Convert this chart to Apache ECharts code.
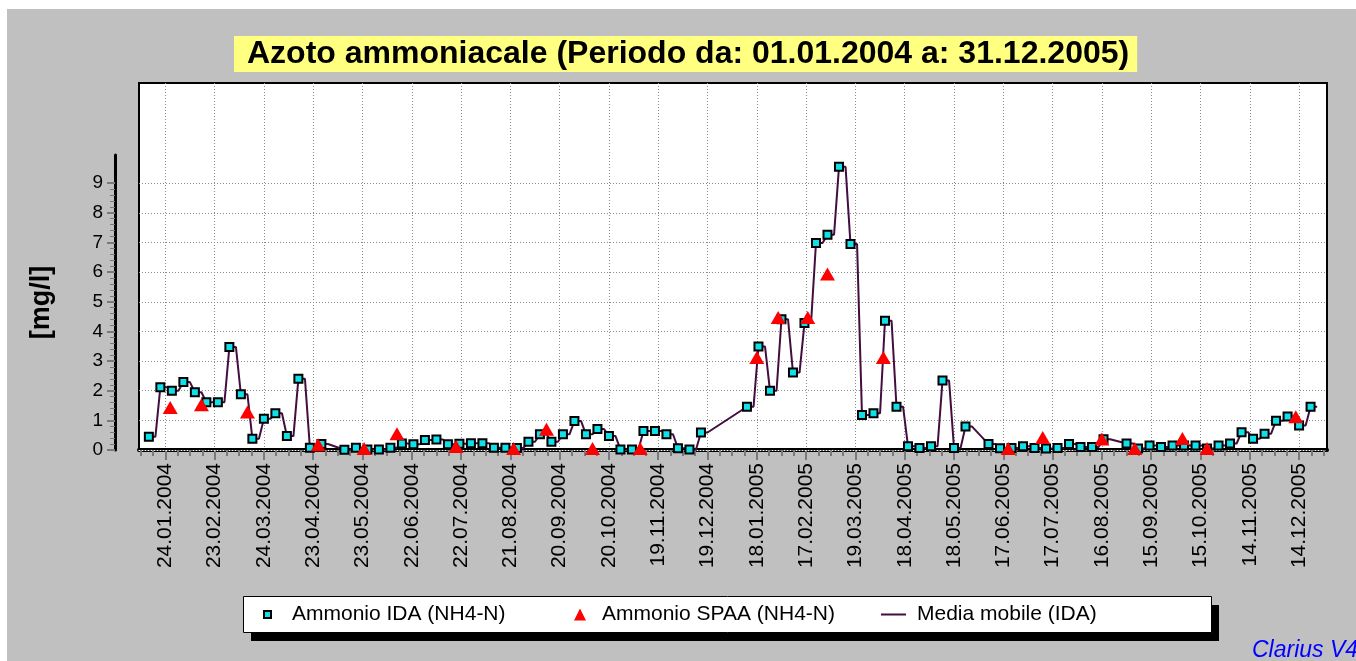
<!DOCTYPE html>
<html>
<head>
<meta charset="utf-8">
<title>Azoto ammoniacale</title>
<script src="https://cdn.jsdelivr.net/npm/echarts@6.0.0/dist/echarts.min.js"></script>
<style>
html, body { margin: 0; padding: 0; background: #fff; }
#chart { width: 1356px; height: 661px; }
</style>
</head>
<body>
<div id="chart"></div>
<script>
// Ammonio IDA (NH4-N), misure settimanali
const idaDates = [
	'14.01.2004', '21.01.2004', '28.01.2004', '04.02.2004', '11.02.2004', '18.02.2004', '25.02.2004',
	'03.03.2004', '10.03.2004', '17.03.2004', '24.03.2004', '31.03.2004', '07.04.2004', '14.04.2004',
	'21.04.2004', '28.04.2004', '12.05.2004', '19.05.2004', '26.05.2004', '02.06.2004', '09.06.2004',
	'16.06.2004', '23.06.2004', '30.06.2004', '07.07.2004', '14.07.2004', '21.07.2004', '28.07.2004',
	'04.08.2004', '11.08.2004', '18.08.2004', '25.08.2004', '01.09.2004', '08.09.2004', '15.09.2004',
	'22.09.2004', '29.09.2004', '06.10.2004', '13.10.2004', '20.10.2004', '27.10.2004', '03.11.2004',
	'10.11.2004', '17.11.2004', '24.11.2004', '01.12.2004', '08.12.2004', '15.12.2004',
	'12.01.2005', '19.01.2005', '26.01.2005', '02.02.2005', '09.02.2005', '16.02.2005', '23.02.2005',
	'02.03.2005', '09.03.2005', '16.03.2005', '23.03.2005', '30.03.2005', '06.04.2005', '13.04.2005',
	'20.04.2005', '27.04.2005', '04.05.2005', '11.05.2005', '18.05.2005', '25.05.2005', '08.06.2005',
	'15.06.2005', '22.06.2005', '29.06.2005', '06.07.2005', '13.07.2005', '20.07.2005', '27.07.2005',
	'03.08.2005', '10.08.2005', '17.08.2005', '31.08.2005', '07.09.2005', '14.09.2005', '21.09.2005',
	'28.09.2005', '05.10.2005', '12.10.2005', '19.10.2005', '26.10.2005', '02.11.2005', '09.11.2005',
	'16.11.2005', '23.11.2005', '30.11.2005', '07.12.2005', '14.12.2005', '21.12.2005'
];
const idaValues = [
	0.45, 2.12, 2.0, 2.29, 1.95, 1.61, 1.61,
	3.47, 1.88, 0.38, 1.05, 1.24, 0.47, 2.4,
	0.08, 0.2, 0.01, 0.08, 0.02, 0.02, 0.08,
	0.22, 0.19, 0.34, 0.35, 0.19, 0.21, 0.23,
	0.23, 0.08, 0.08, 0.07, 0.28, 0.53, 0.28,
	0.53, 0.98, 0.53, 0.71, 0.47, 0.02, 0.02,
	0.64, 0.64, 0.53, 0.06, 0.02, 0.59,
	1.46, 3.49, 2.0, 4.41, 2.61, 4.28, 6.98,
	7.26, 9.55, 6.95, 1.18, 1.24, 4.36, 1.46,
	0.13, 0.07, 0.13, 2.34, 0.07, 0.79, 0.2,
	0.06, 0.07, 0.13, 0.07, 0.05, 0.07, 0.2,
	0.1, 0.1, 0.36, 0.22, 0.05, 0.15, 0.1,
	0.15, 0.15, 0.15, 0.05, 0.15, 0.22, 0.6,
	0.38, 0.55, 0.99, 1.13, 0.83, 1.46
];

// Ammonio SPAA (NH4-N)
const spaaDates = [
	'27.01.2004', '15.02.2004', '14.03.2004', '26.04.2004', '24.05.2004', '13.06.2004', '19.07.2004',
	'23.08.2004', '12.09.2004', '10.10.2004', '08.11.2004', '18.01.2005', '31.01.2005', '18.02.2005',
	'02.03.2005', '05.04.2005', '20.06.2005', '11.07.2005', '16.08.2005', '05.09.2005', '04.10.2005',
	'19.10.2005', '12.12.2005'
];
const spaaValues = [
	1.43, 1.53, 1.28, 0.18, 0.05, 0.55, 0.12,
	0.05, 0.7, 0.05, 0.05, 3.12, 4.47, 4.47,
	5.94, 3.12, 0.05, 0.42, 0.37, 0.05, 0.39,
	0.05, 1.12
];

// Media mobile (IDA): vertici della linea
const mediaMobile = [
	['14.01.2004', 0.45], ['18.01.2004', 0.45], ['21.01.2004', 2.12], ['25.01.2004', 2.12],
	['28.01.2004', 2.0], ['01.02.2004', 2.0], ['04.02.2004', 2.29], ['08.02.2004', 2.29],
	['11.02.2004', 1.95], ['15.02.2004', 1.95], ['18.02.2004', 1.61], ['22.02.2004', 1.61],
	['25.02.2004', 1.61], ['29.02.2004', 1.61], ['03.03.2004', 3.47], ['07.03.2004', 3.47],
	['10.03.2004', 1.88], ['14.03.2004', 1.88], ['17.03.2004', 0.38], ['21.03.2004', 0.38],
	['24.03.2004', 1.05], ['28.03.2004', 1.05], ['31.03.2004', 1.24], ['04.04.2004', 1.24],
	['07.04.2004', 0.47], ['11.04.2004', 0.47], ['14.04.2004', 2.4], ['18.04.2004', 2.4],
	['21.04.2004', 0.08], ['25.04.2004', 0.08], ['28.04.2004', 0.2], ['02.05.2004', 0.2],
	['12.05.2004', 0.01], ['16.05.2004', 0.01], ['19.05.2004', 0.08], ['23.05.2004', 0.08],
	['26.05.2004', 0.02], ['30.05.2004', 0.02], ['02.06.2004', 0.02], ['06.06.2004', 0.02],
	['09.06.2004', 0.08], ['13.06.2004', 0.08], ['16.06.2004', 0.22], ['20.06.2004', 0.22],
	['23.06.2004', 0.19], ['27.06.2004', 0.19], ['30.06.2004', 0.34], ['04.07.2004', 0.34],
	['07.07.2004', 0.35], ['11.07.2004', 0.35], ['14.07.2004', 0.19], ['18.07.2004', 0.19],
	['21.07.2004', 0.21], ['25.07.2004', 0.21], ['28.07.2004', 0.23], ['01.08.2004', 0.23],
	['04.08.2004', 0.23], ['08.08.2004', 0.23], ['11.08.2004', 0.08], ['15.08.2004', 0.08],
	['18.08.2004', 0.08], ['22.08.2004', 0.08], ['25.08.2004', 0.07], ['29.08.2004', 0.07],
	['01.09.2004', 0.28], ['05.09.2004', 0.28], ['08.09.2004', 0.53], ['12.09.2004', 0.53],
	['15.09.2004', 0.28], ['19.09.2004', 0.28], ['22.09.2004', 0.53], ['26.09.2004', 0.53],
	['29.09.2004', 0.98], ['03.10.2004', 0.98], ['06.10.2004', 0.53], ['10.10.2004', 0.53],
	['13.10.2004', 0.71], ['17.10.2004', 0.71], ['20.10.2004', 0.47], ['24.10.2004', 0.47],
	['27.10.2004', 0.02], ['31.10.2004', 0.02], ['03.11.2004', 0.02], ['07.11.2004', 0.02],
	['10.11.2004', 0.64], ['14.11.2004', 0.64], ['17.11.2004', 0.64], ['21.11.2004', 0.64],
	['24.11.2004', 0.53], ['28.11.2004', 0.53], ['01.12.2004', 0.06], ['05.12.2004', 0.06],
	['08.12.2004', 0.02], ['12.12.2004', 0.02], ['15.12.2004', 0.59], ['19.12.2004', 0.59],
	['12.01.2005', 1.46], ['16.01.2005', 1.46], ['19.01.2005', 3.49], ['23.01.2005', 3.49],
	['26.01.2005', 2.0], ['30.01.2005', 2.0], ['02.02.2005', 4.41], ['06.02.2005', 4.41],
	['09.02.2005', 2.61], ['13.02.2005', 2.61], ['16.02.2005', 4.28], ['20.02.2005', 4.28],
	['23.02.2005', 6.98], ['27.02.2005', 6.98], ['02.03.2005', 7.26], ['06.03.2005', 7.26],
	['09.03.2005', 9.55], ['13.03.2005', 9.55], ['16.03.2005', 6.95], ['20.03.2005', 6.95],
	['23.03.2005', 1.18], ['27.03.2005', 1.18], ['30.03.2005', 1.24], ['03.04.2005', 1.24],
	['06.04.2005', 4.36], ['10.04.2005', 4.36], ['13.04.2005', 1.46], ['17.04.2005', 1.46],
	['20.04.2005', 0.13], ['24.04.2005', 0.13], ['27.04.2005', 0.07], ['01.05.2005', 0.07],
	['04.05.2005', 0.13], ['08.05.2005', 0.13], ['11.05.2005', 2.34], ['15.05.2005', 2.34],
	['18.05.2005', 0.07], ['22.05.2005', 0.07], ['25.05.2005', 0.79], ['29.05.2005', 0.79],
	['08.06.2005', 0.2], ['12.06.2005', 0.2], ['15.06.2005', 0.06], ['19.06.2005', 0.06],
	['22.06.2005', 0.07], ['26.06.2005', 0.07], ['29.06.2005', 0.13], ['03.07.2005', 0.13],
	['06.07.2005', 0.07], ['10.07.2005', 0.07], ['13.07.2005', 0.05], ['17.07.2005', 0.05],
	['20.07.2005', 0.07], ['24.07.2005', 0.07], ['27.07.2005', 0.2], ['31.07.2005', 0.2],
	['03.08.2005', 0.1], ['07.08.2005', 0.1], ['10.08.2005', 0.1], ['14.08.2005', 0.1],
	['17.08.2005', 0.36], ['21.08.2005', 0.36], ['31.08.2005', 0.22], ['04.09.2005', 0.22],
	['07.09.2005', 0.05], ['11.09.2005', 0.05], ['14.09.2005', 0.15], ['18.09.2005', 0.15],
	['21.09.2005', 0.1], ['25.09.2005', 0.1], ['28.09.2005', 0.15], ['02.10.2005', 0.15],
	['05.10.2005', 0.15], ['09.10.2005', 0.15], ['12.10.2005', 0.15], ['16.10.2005', 0.15],
	['19.10.2005', 0.05], ['23.10.2005', 0.05], ['26.10.2005', 0.15], ['30.10.2005', 0.15],
	['02.11.2005', 0.22], ['06.11.2005', 0.22], ['09.11.2005', 0.6], ['13.11.2005', 0.6],
	['16.11.2005', 0.38], ['20.11.2005', 0.38], ['23.11.2005', 0.55], ['27.11.2005', 0.55],
	['30.11.2005', 0.99], ['04.12.2005', 0.99], ['07.12.2005', 1.13], ['11.12.2005', 1.13],
	['14.12.2005', 0.83], ['18.12.2005', 0.83], ['21.12.2005', 1.46], ['25.12.2005', 1.46]
];

// etichette asse x (ogni 30 giorni) e asse y
const tickLabels = [
	'24.01.2004', '23.02.2004', '24.03.2004', '23.04.2004', '23.05.2004', '22.06.2004',
	'22.07.2004', '21.08.2004', '20.09.2004', '20.10.2004', '19.11.2004', '19.12.2004',
	'18.01.2005', '17.02.2005', '19.03.2005', '18.04.2005', '18.05.2005', '17.06.2005',
	'17.07.2005', '16.08.2005', '15.09.2005', '15.10.2005', '14.11.2005', '14.12.2005'
];
const yTicks = [0, 1, 2, 3, 4, 5, 6, 7, 8, 9];

const font = 'Liberation Sans, Arial, sans-serif';
const origin = Date.UTC(2004, 0, 1);

// giorno dal 01.01.2004
function toDay(s) {
	let p = s.split('.');
	return Math.round((Date.UTC(+p[2], +p[1] - 1, +p[0]) - origin) / 86400000);
}

const tickDays = tickLabels.map(toDay);
// tacche secondarie ogni 7.5 giorni
const minorDays = [];
for (let k = -2; k <= 94; k++) {
	if (k % 4 !== 0) minorDays.push(tickDays[0] + 7.5 * k);
}
const minorY = [];
for (let i = 0; i < 9; i++) {
	for (let j = 1; j < 5; j++) minorY.push(+(i + j * 0.2).toFixed(1));
}

const greyTick = { color: '#7a7a7a', width: 2 };
const dotted = { color: '#8c8c8c', width: 1, type: [1, 2] };
const legendText = { fontSize: 21, color: '#000', fontFamily: font };

let chart = echarts.init(document.getElementById('chart'));
let option = {
	animation: false,
	backgroundColor: '#c0c0c0',
	title: {
		text: 'Azoto ammoniacale (Periodo da: 01.01.2004 a: 31.12.2005)',
		left: 234,
		top: 36,
		padding: [2, 8, 2, 13],
		backgroundColor: '#ffff80',
		textStyle: { fontSize: 32, fontWeight: 'bold', color: '#000', fontFamily: font, lineHeight: 32 },
	},
	legend: [
		{
			data: ['Ammonio IDA (NH4-N)'],
			left: 263, top: 604, padding: 0, itemWidth: 7, itemHeight: 7, selectedMode: false,
			textStyle: Object.assign({ padding: [0, 0, 0, 16] }, legendText),
		},
		{
			data: ['Ammonio SPAA (NH4-N)'],
			left: 574, top: 604, padding: 0, itemWidth: 12, itemHeight: 12, selectedMode: false,
			textStyle: Object.assign({ padding: [0, 0, 0, 11] }, legendText),
		},
		{
			data: [{ name: 'Media mobile (IDA)', icon: 'path://M0 0H25V2H0Z' }],
			left: 881, top: 604, padding: 0, itemWidth: 25, itemHeight: 14, selectedMode: false,
			textStyle: Object.assign({ padding: [0, 0, 0, 6] }, legendText),
		},
	],
	grid: [
		{
			left: 139, right: 29, top: 83, bottom: 211,
			show: true, backgroundColor: '#fff', borderColor: '#000', borderWidth: 2,
			containLabel: false, outerBoundsMode: 'none',
		},
		{
			left: 139, right: 29, top: 155, bottom: 211,
			show: false, containLabel: false, outerBoundsMode: 'none',
		},
	],
	xAxis: [
		{
			gridIndex: 0, type: 'value', min: 7, max: 730, position: 'bottom',
			axisLine: { show: true, onZero: false, lineStyle: { color: '#000', width: 4 } },
			axisTick: { show: true, customValues: tickDays, length: 10, lineStyle: greyTick },
			axisLabel: {
				show: true, customValues: tickDays, rotate: 90, margin: 13,
				color: '#000', fontSize: 21, fontFamily: font,
				formatter: (v) => tickLabels[tickDays.indexOf(Math.round(v))] || '',
			},
			splitLine: { show: true, lineStyle: dotted },
		},
		{
			gridIndex: 1, type: 'value', min: 7, max: 730, position: 'bottom', z: 1,
			axisLine: { show: true, onZero: false, lineStyle: { color: '#fff', width: 1, type: [1, 2] } },
			axisTick: { show: true, customValues: minorDays, length: 6, lineStyle: greyTick },
			axisLabel: { show: false },
			splitLine: { show: false },
		},
	],
	yAxis: [
		{ gridIndex: 0, type: 'value', min: 0, max: 1, show: false },
		{
			gridIndex: 1, type: 'value', min: 0, max: 9.95, position: 'left', offset: 24,
			name: '[mg/l]', nameLocation: 'middle', nameRotate: 90, nameGap: 60,
			nameTextStyle: { fontSize: 27, fontWeight: 'bold', color: '#000', fontFamily: font },
			axisLine: { show: true, onZero: false, lineStyle: { color: '#000', width: 3 } },
			axisTick: { show: true, customValues: yTicks, length: 8, lineStyle: greyTick },
			axisLabel: { customValues: yTicks, margin: 12, color: '#000', fontSize: 19, fontFamily: font },
			splitLine: { show: true, lineStyle: dotted },
		},
		{
			gridIndex: 1, type: 'value', min: 0, max: 9.95, position: 'left', offset: 24,
			axisLine: { show: false },
			axisTick: { show: true, customValues: minorY, length: 5, lineStyle: { color: '#7a7a7a', width: 1 } },
			axisLabel: { show: false },
			splitLine: { show: false },
		},
	],
	series: [
		{
			name: 'Media mobile (IDA)',
			type: 'line',
			xAxisIndex: 1,
			yAxisIndex: 1,
			data: mediaMobile.map((p) => [toDay(p[0]), p[1]]),
			symbol: 'none',
			showSymbol: false,
			clip: true,
			lineStyle: { color: '#430d40', width: 2 },
			itemStyle: { color: '#430d40' },
			z: 2,
		},
		{
			name: 'Ammonio IDA (NH4-N)',
			type: 'scatter',
			xAxisIndex: 1,
			yAxisIndex: 1,
			data: idaDates.map((d, i) => [toDay(d), idaValues[i]]),
			symbol: 'rect',
			symbolSize: 8,
			clip: true,
			itemStyle: { color: '#12e0e8', borderColor: '#000', borderWidth: 2, opacity: 1 },
			z: 3,
		},
		{
			name: 'Ammonio SPAA (NH4-N)',
			type: 'scatter',
			xAxisIndex: 1,
			yAxisIndex: 1,
			data: spaaDates.map((d, i) => [toDay(d), spaaValues[i]]),
			symbol: 'triangle',
			symbolSize: [15, 13],
			clip: true,
			itemStyle: { color: '#ff0000', opacity: 1 },
			z: 4,
		},
	],
	graphic: [
		{ type: 'rect', shape: { x: 0, y: 0, width: 1356, height: 9 }, style: { fill: '#fff' }, silent: true },
		{ type: 'rect', shape: { x: 0, y: 0, width: 7, height: 661 }, style: { fill: '#fff' }, silent: true },
		{ type: 'rect', shape: { x: 251, y: 605, width: 968, height: 36 }, style: { fill: '#000' }, silent: true },
		{
			type: 'rect', shape: { x: 243.5, y: 596.5, width: 968, height: 36 },
			style: { fill: '#fff', stroke: '#000', lineWidth: 1 }, silent: true,
		},
		{
			type: 'text', x: 1252, y: 639, silent: true,
			style: { text: 'Clarius V4', fill: '#0000ff', fontSize: 23, fontStyle: 'italic', fontFamily: font },
		},
	],
};
chart.setOption(option);
</script>
</body>
</html>
